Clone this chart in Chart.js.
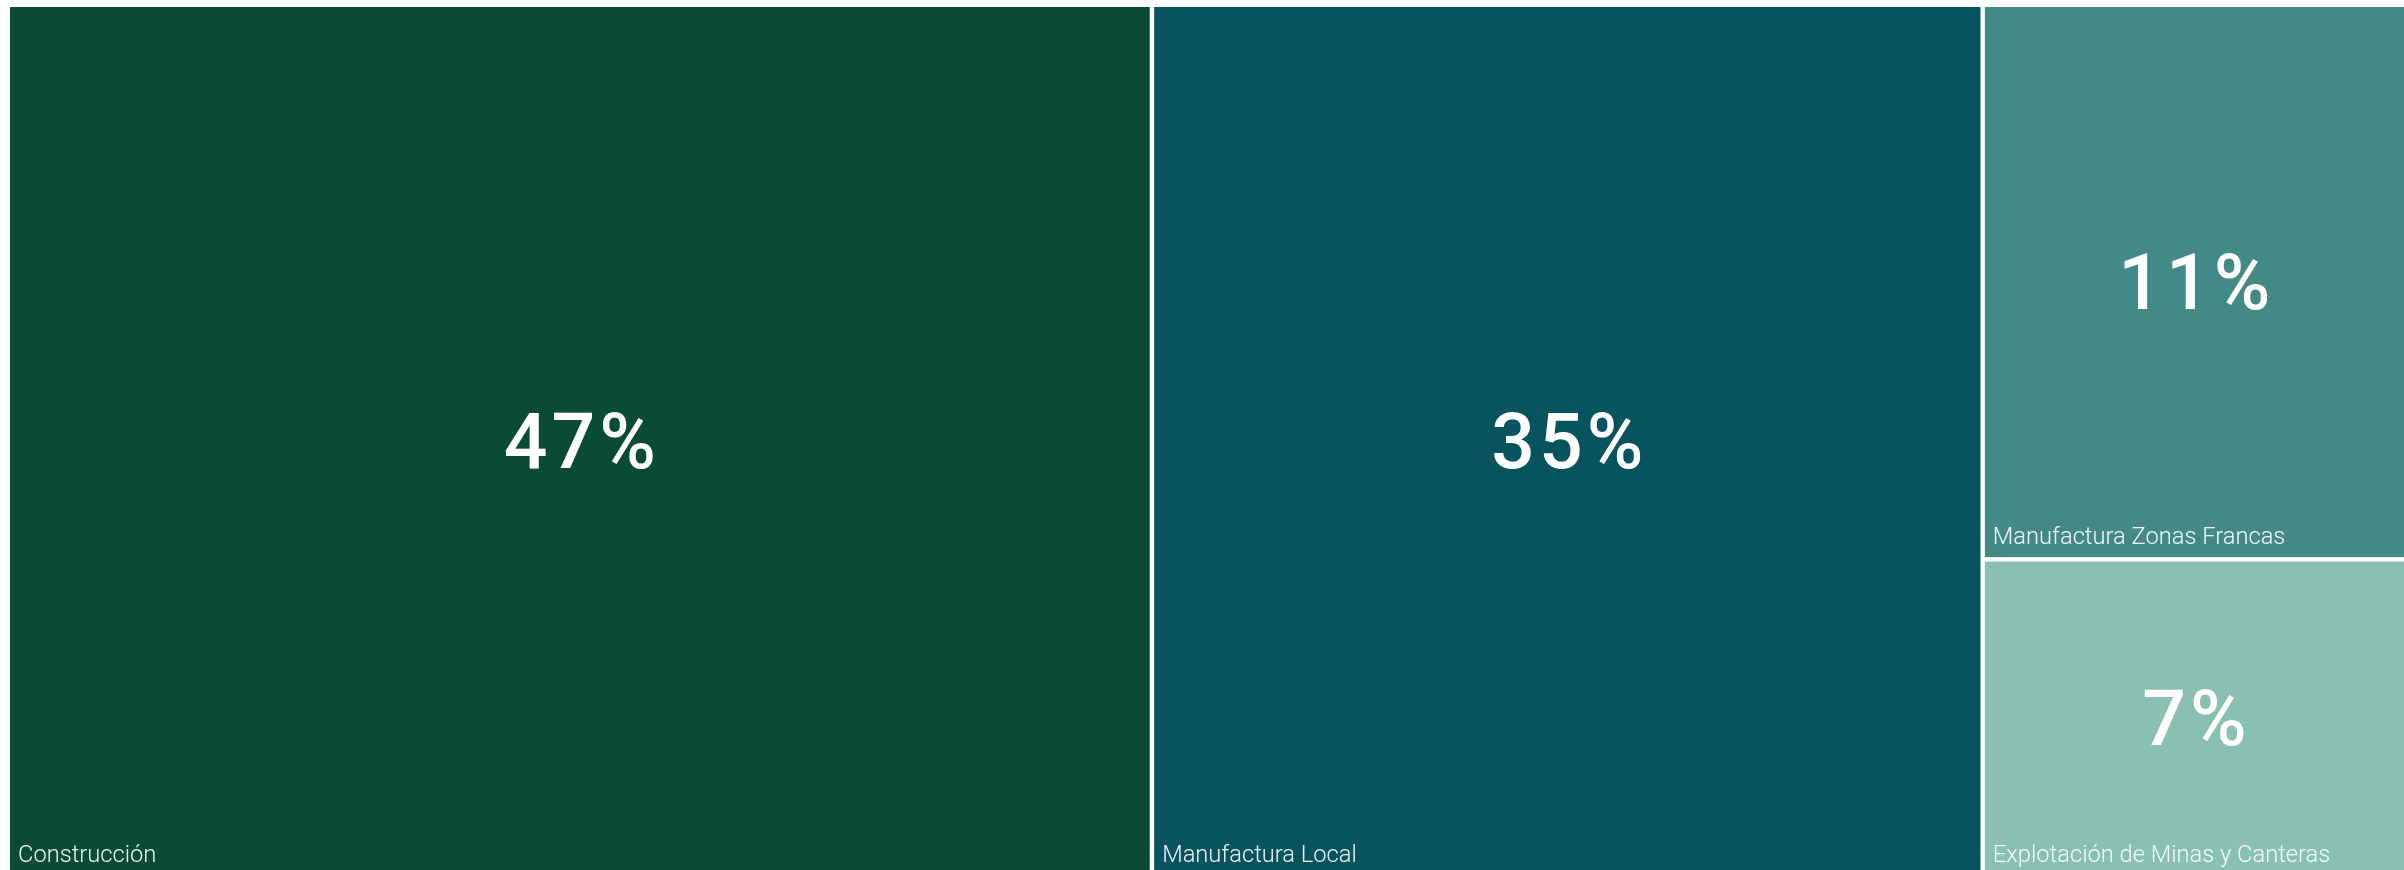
<!DOCTYPE html>
<html>
<head>
<meta charset="utf-8">
<script src="https://cdn.jsdelivr.net/npm/chart.js@4/dist/chart.umd.min.js"></script>
<style>
    html, body { margin: 0; padding: 0; background: #fff; overflow: hidden; }
    #wrap { width: 2404px; height: 875px; }
</style>
</head>
<body>
<div id="wrap"><canvas id="treeChart" width="2404" height="875"></canvas></div>
<script>
const categories = ['Construcción', 'Manufactura Local', 'Manufactura Zonas Francas', 'Explotación de Minas y Canteras'];
const shares = [47.7, 34.7, 11.2, 6.4];
const percentLabels = ['47%', '35%', '11%', '7%'];
const tileColors = ['#0a4b37', '#08545e', '#438a87', '#89c0b2'];

// squarified layout in pixel-sized units, returned in scale units (0..100 on both axes)
function squarify(values, W, H) {
    const total = values.reduce((a, b) => a + b, 0);
    const areas = values.map(v => v / total * W * H);
    const out = [];
    let rect = { x: 0, y: 0, w: W, h: H };
    let i = 0;

    function worst(row, side) {
        const s = row.reduce((a, b) => a + b, 0);
        const mx = Math.max(...row), mn = Math.min(...row);
        return Math.max(side * side * mx / (s * s), (s * s) / (side * side * mn));
    }

    while (i < areas.length) {
        const side = Math.min(rect.w, rect.h);
        let row = [areas[i]];
        let j = i + 1;
        while (j < areas.length && worst(row.concat(areas[j]), side) <= worst(row, side)) {
            row.push(areas[j]);
            j++;
        }
        const s = row.reduce((a, b) => a + b, 0);
        if (rect.w >= rect.h) {
            const colW = s / rect.h;
            let y = rect.y;
            row.forEach(a => {
                const h = a / colW;
                out.push({ x: rect.x, y: y, w: colW, h: h });
                y += h;
            });
            rect = { x: rect.x + colW, y: rect.y, w: rect.w - colW, h: rect.h };
        } else {
            const rowH = s / rect.w;
            let x = rect.x;
            row.forEach(a => {
                const w = a / rowH;
                out.push({ x: x, y: rect.y, w: w, h: rowH });
                x += w;
            });
            rect = { x: rect.x, y: rect.y + rowH, w: rect.w, h: rect.h - rowH };
        }
        i = j;
    }
    return out.map(r => ({
        x0: r.x / W * 100, x1: (r.x + r.w) / W * 100,
        y0: r.y / H * 100, y1: (r.y + r.h) / H * 100
    }));
}

const treemapPlugin = {
    id: 'treemap',
    afterDatasetsDraw(chart, args, opts) {
        const ctx = chart.ctx;
        const xs = chart.scales.x, ys = chart.scales.y;
        const area = chart.chartArea;
        const tiles = squarify(opts.values, area.width, area.height);
        const gap = 2.2;

        tiles.forEach((t, k) => {
            let left = xs.getPixelForValue(t.x0);
            let right = xs.getPixelForValue(t.x1);
            let top = ys.getPixelForValue(t.y0);
            let bottom = ys.getPixelForValue(t.y1);
            if (t.x0 > 0.01) left += gap;
            if (t.x1 < 99.99) right -= gap;
            if (t.y0 > 0.01) top += gap;
            if (t.y1 < 99.99) bottom -= gap;

            ctx.save();
            ctx.fillStyle = opts.colors[k];
            ctx.fillRect(left, top, right - left, bottom - top);

            ctx.fillStyle = '#ffffff';
            ctx.textAlign = 'center';
            ctx.textBaseline = 'alphabetic';
            ctx.font = '500 77px Roboto, "Liberation Sans", sans-serif';
            ctx.letterSpacing = '4px';
            ctx.fillText(opts.percents[k], (left + right) / 2 + 2, (top + bottom) / 2 + 27);

            ctx.letterSpacing = '0px';
            ctx.fillStyle = 'rgba(255,255,255,0.93)';
            ctx.textAlign = 'left';
            ctx.font = '300 23.7px Roboto, "Liberation Sans", sans-serif';
            ctx.fillText(opts.labels[k], left + 8, bottom - 13);
            ctx.restore();
        });
    }
};

new Chart(document.getElementById('treeChart').getContext('2d'), {
    type: 'scatter',
    data: { datasets: [] },
    options: {
        responsive: false,
        animation: false,
        layout: { padding: { left: 10, top: 7, right: 0, bottom: 0 } },
        scales: {
            x: { type: 'linear', min: 0, max: 100, display: false },
            y: { type: 'linear', min: 0, max: 100, reverse: true, display: false }
        },
        plugins: {
            legend: { display: false },
            tooltip: { enabled: false },
            treemap: {
                values: shares,
                labels: categories,
                percents: percentLabels,
                colors: tileColors
            }
        }
    },
    plugins: [treemapPlugin]
});
</script>
</body>
</html>
